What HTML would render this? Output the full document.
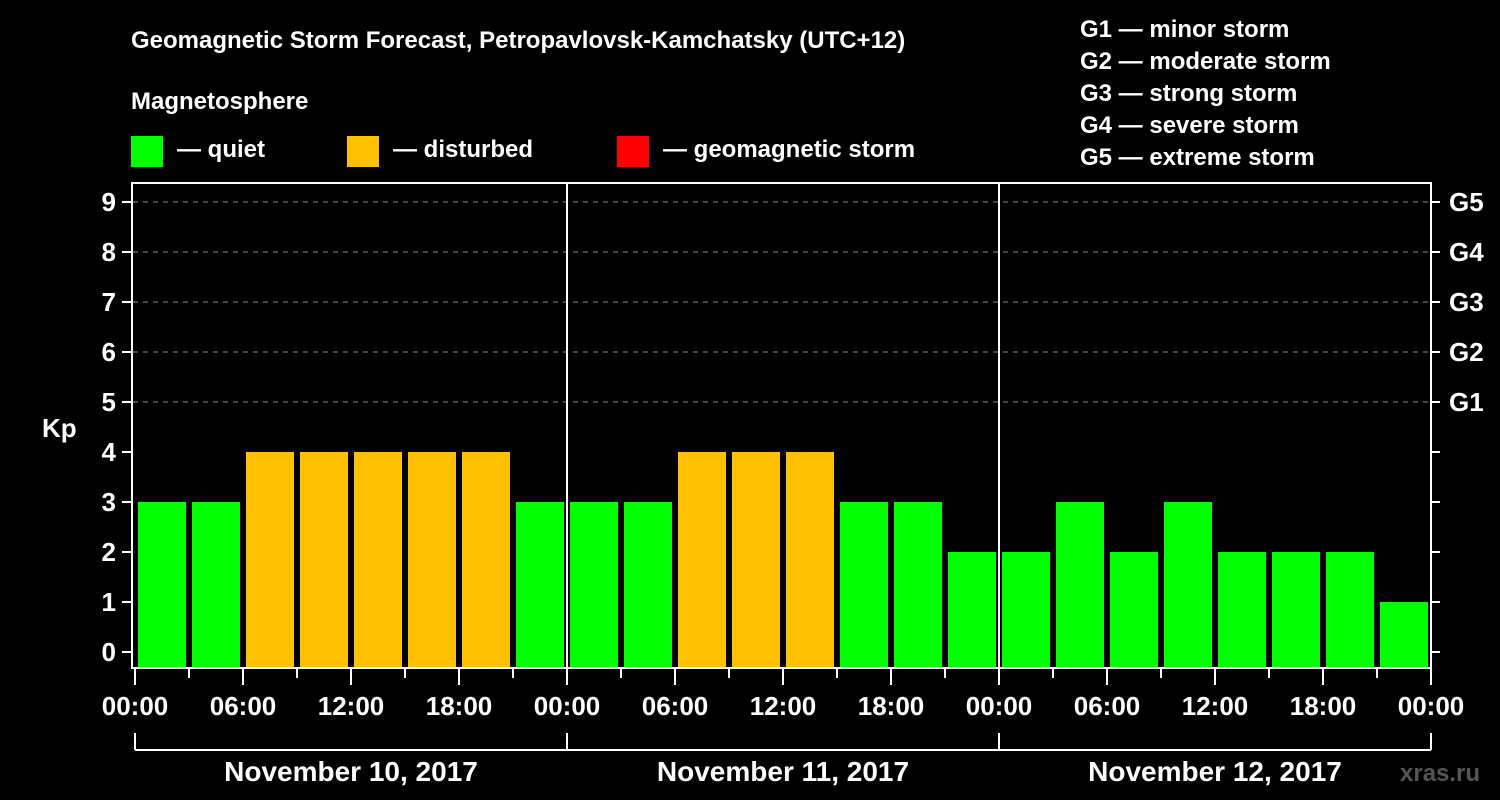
<!DOCTYPE html>
<html><head><meta charset="utf-8"><style>
html,body{margin:0;padding:0;background:#000;width:1500px;height:800px;overflow:hidden}
svg{display:block;font-family:"Liberation Sans",Arial,sans-serif;font-weight:bold}
</style></head><body>
<svg id="chart" width="1500" height="800" viewBox="0 0 1500 800">
<text x="131" y="48" fill="#fff" font-size="24">Geomagnetic Storm Forecast, Petropavlovsk-Kamchatsky (UTC+12)</text>
<text x="131" y="109" fill="#fff" font-size="24">Magnetosphere</text>
<rect x="131" y="136" width="32" height="31" fill="#00ff00"/>
<text x="177" y="157" fill="#fff" font-size="24">— quiet</text>
<rect x="347" y="136" width="32" height="31" fill="#ffc000"/>
<text x="393" y="157" fill="#fff" font-size="24">— disturbed</text>
<rect x="617" y="136" width="32" height="31" fill="#ff0000"/>
<text x="663" y="157" fill="#fff" font-size="24">— geomagnetic storm</text>
<g fill="#fff" font-size="24">
<text x="1080" y="37">G1 — minor storm</text>
<text x="1080" y="69">G2 — moderate storm</text>
<text x="1080" y="101">G3 — strong storm</text>
<text x="1080" y="133">G4 — severe storm</text>
<text x="1080" y="165">G5 — extreme storm</text>
</g>
<text x="42" y="437" fill="#fff" font-size="26">Kp</text>
<g id="grid"></g><g id="bars"></g><g id="axes"></g>
<text x="1400" y="781" fill="#555" font-size="24">xras.ru</text>
</svg>
<script>
const days = ["November 10, 2017","November 11, 2017","November 12, 2017"];
const kpValues = [3,3,4,4,4,4,4,3, 3,3,4,4,4,3,3,2, 2,3,2,3,2,2,2,1];
const yTicks = [0,1,2,3,4,5,6,7,8,9];
const gLabels = ["G1","G2","G3","G4","G5"];
const hourLabels = ["00:00","06:00","12:00","18:00"];

const NS="http://www.w3.org/2000/svg";
const X0=135, SLOT=54, TOP=183, BOT=668, R=X0+SLOT*kpValues.length;
const y = v => 652 - 50*v;
const x = i => X0 + SLOT*i;
function mk(tag, attrs, parent){const e=document.createElementNS(NS,tag);for(const k in attrs)e.setAttribute(k,attrs[k]);parent.appendChild(e);return e;}
const grid=document.getElementById('grid'), bars=document.getElementById('bars'), axes=document.getElementById('axes');

yTicks.forEach(v=>{
  if(v>=5){const l=mk('line',{x1:X0-2,x2:R,y1:y(v),y2:y(v),stroke:'#888','stroke-width':1,'stroke-dasharray':'5,5'},grid);
  
  }
  const t=mk('line',{x1:122,x2:131,y1:y(v),y2:y(v),stroke:'#fff','stroke-width':2},axes);
  
  
  const rt=mk('line',{x1:R,x2:R+9,y1:y(v),y2:y(v),stroke:'#fff','stroke-width':2},axes);
  
  
  const lb=mk('text',{x:116,y:y(v)+9,fill:'#fff','font-size':26,'text-anchor':'end'},axes);
  lb.textContent=v;
  
  
});
gLabels.forEach((g,i)=>{
  const lb=mk('text',{x:R+18,y:y(5+i)+9,fill:'#fff','font-size':26},axes);
  lb.textContent=g;
  
  
});
kpValues.forEach((v,i)=>{
  const b=mk('rect',{x:x(i)+3,y:y(v),width:SLOT-6,height:BOT-1-y(v),fill:v>=5?'#ff0000':(v>=4?'#ffc000':'#00ff00')},bars);
  
  
});
// frame
const f=mk('rect',{x:X0-3,y:TOP,width:R-X0+3,height:BOT-TOP,fill:'none',stroke:'#fff','stroke-width':2},axes);


for(let d=1; d<days.length; d++){
  const l=mk('line',{x1:x(d*8),x2:x(d*8),y1:TOP,y2:BOT,stroke:'#fff','stroke-width':2},axes);
  
  
}
for(let i=0;i<=kpValues.length;i++){
  const major=i%2===0;
  const t=mk('line',{x1:x(i),x2:x(i),y1:BOT,y2:major?685:678,stroke:'#fff','stroke-width':2},axes);
  
  
  if(major){
    const lb=mk('text',{x:x(i),y:715,fill:'#fff','font-size':26,'text-anchor':'middle'},axes);
    lb.textContent=hourLabels[(i/2)%4];
    
    
  }
}
const br=mk('line',{x1:X0,x2:R,y1:750,y2:750,stroke:'#fff','stroke-width':2},axes);


for(let d=0; d<=days.length; d++){
  const l=mk('line',{x1:x(d*8),x2:x(d*8),y1:733,y2:750,stroke:'#fff','stroke-width':2},axes);
  
  
}
days.forEach((dname,d)=>{
  const lb=mk('text',{x:x(d*8+4),y:781,fill:'#fff','font-size':28,'text-anchor':'middle'},axes);
  lb.textContent=dname;
  
  
});
</script>
</body></html>
